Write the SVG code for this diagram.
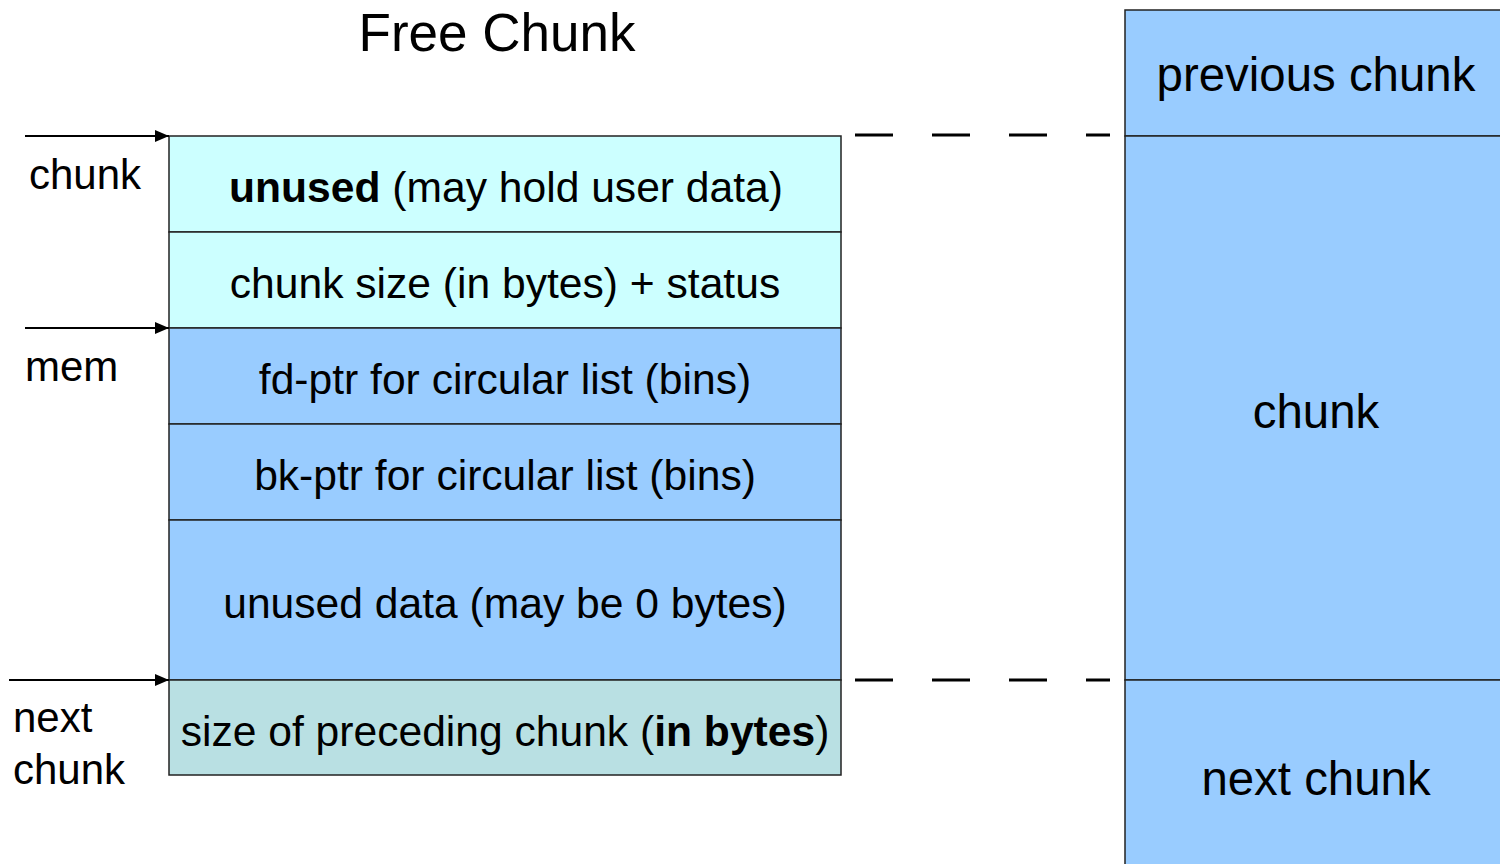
<svg xmlns="http://www.w3.org/2000/svg" width="1500" height="864" viewBox="0 0 1500 864">
  <defs>
    <marker id="arrow" viewBox="0 0 14 12" refX="14" refY="6" markerWidth="14" markerHeight="12" markerUnits="userSpaceOnUse" orient="auto">
      <path d="M0,0 L14,6 L0,12 Z" fill="#000"/>
    </marker>
    <style>
      text { font-family: "Liberation Sans", Arial, sans-serif; fill: #000; }
      .cell { stroke: #222; stroke-width: 1.5; }
      .hdr { fill: #ccffff; }
      .ptr { fill: #99ccff; }
      .foot { fill: #b9e0e3; }
      .row { font-size: 42.6px; text-anchor: middle; }
      .lbl { font-size: 42px; }
      .side { font-size: 47.4px; text-anchor: middle; }
      .dash { stroke: #000; stroke-width: 3; stroke-dasharray: 38 39; fill: none; }
      .ptrline { stroke: #000; stroke-width: 2; fill: none; marker-end: url(#arrow); }
    </style>
  </defs>
  <rect width="1500" height="864" fill="#fff"/>

  <text x="497" y="51" font-size="53" text-anchor="middle">Free Chunk</text>

  <!-- free chunk layout -->
  <g id="row-unused">
    <rect class="cell hdr" x="169" y="136" width="672" height="96"/>
    <text class="row" x="506" y="202"><tspan font-weight="bold">unused</tspan> (may hold user data)</text>
  </g>
  <g id="row-size">
    <rect class="cell hdr" x="169" y="232" width="672" height="96"/>
    <text class="row" x="505" y="298">chunk size (in bytes) + status</text>
  </g>
  <g id="row-fd">
    <rect class="cell ptr" x="169" y="328" width="672" height="96"/>
    <text class="row" x="505" y="394">fd-ptr for circular list (bins)</text>
  </g>
  <g id="row-bk">
    <rect class="cell ptr" x="169" y="424" width="672" height="96"/>
    <text class="row" x="505" y="490">bk-ptr for circular list (bins)</text>
  </g>
  <g id="row-data">
    <rect class="cell ptr" x="169" y="520" width="672" height="160"/>
    <text class="row" x="505" y="618">unused data (may be 0 bytes)</text>
  </g>
  <g id="row-prevsize">
    <rect class="cell foot" x="169" y="680" width="672" height="95"/>
    <text class="row" x="505" y="746">size of preceding chunk (<tspan font-weight="bold">in bytes</tspan>)</text>
  </g>

  <!-- memory overview column -->
  <g id="mem-previous">
    <rect class="cell ptr" x="1125" y="10" width="380" height="126"/>
    <text class="side" x="1316" y="91">previous chunk</text>
  </g>
  <g id="mem-chunk">
    <rect class="cell ptr" x="1125" y="136" width="380" height="544"/>
    <text class="side" x="1316" y="428">chunk</text>
  </g>
  <g id="mem-next">
    <rect class="cell ptr" x="1125" y="680" width="380" height="190"/>
    <text class="side" x="1316" y="795">next chunk</text>
  </g>

  <!-- pointer labels -->
  <g id="lbl-chunk"><text class="lbl" x="29" y="189">chunk</text></g>
  <g id="lbl-mem"><text class="lbl" x="25" y="381">mem</text></g>
  <g id="lbl-next"><text class="lbl" x="13" y="732">next</text><text class="lbl" x="13" y="784">chunk</text></g>

  <g id="connectors">
    <line class="ptrline" x1="25" y1="136" x2="169" y2="136"/>
    <line class="ptrline" x1="25" y1="328" x2="169" y2="328"/>
    <line class="ptrline" x1="9" y1="680" x2="169" y2="680"/>
    <line class="dash" x1="855" y1="135" x2="1110" y2="135"/>
    <line class="dash" x1="855" y1="680" x2="1110" y2="680"/>
  </g>
</svg>
